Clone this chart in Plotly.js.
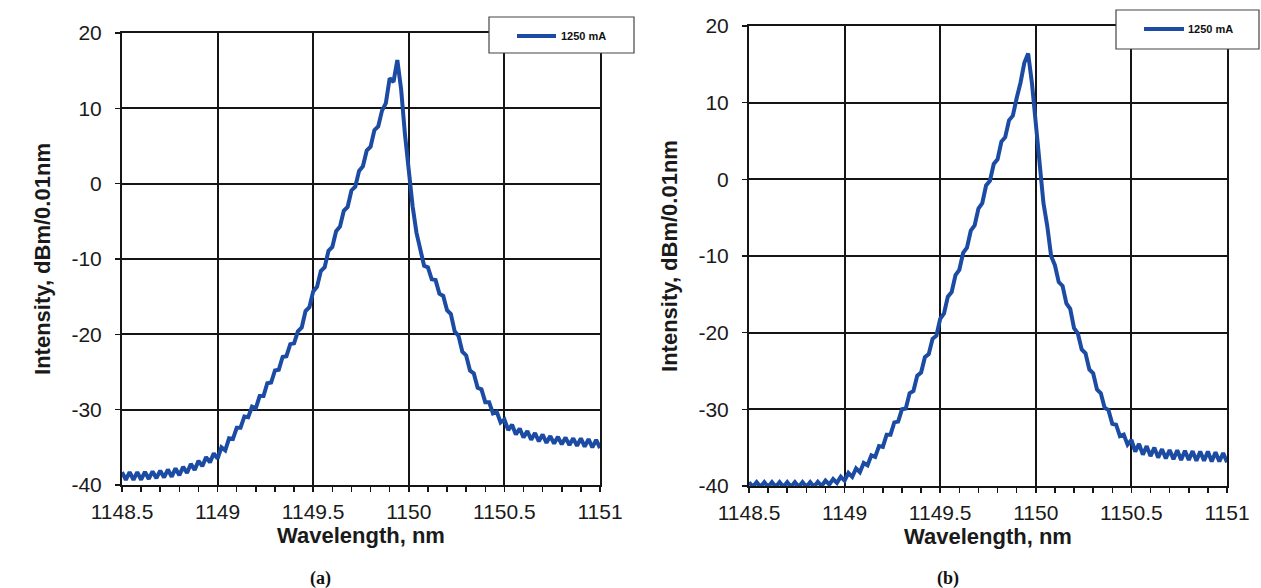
<!DOCTYPE html>
<html>
<head>
<meta charset="utf-8">
<script src="https://cdn.plot.ly/plotly-3.0.1.min.js"></script>
<style>html,body{margin:0;padding:0;background:#fff;}#chart{width:1261px;height:588px;}</style>
</head>
<body>
<div id="chart"></div>
<script>
// ---- data ----
const seriesName = '1250 mA';
const wavelengthStart = 1148.5;   // nm, first sample
const wavelengthStep = 0.02;      // nm, sample spacing
// (a) intensity, dBm/0.01nm
const intensityA = [
  -38.3,-39.3,-38.3,-39.3,-38.3,-39.3,-38.25,-39.2,-38.2,-39.1,
  -38.1,-39.0,-37.95,-38.9,-37.8,-38.7,-37.6,-38.4,-37.2,-38.0,
  -36.8,-37.5,-36.3,-37.0,-35.8,-36.5,-35.0,-35.4,-33.8,-33.9,
  -32.4,-32.4,-30.9,-31.0,-29.6,-29.8,-28.2,-28.2,-26.5,-26.4,
  -24.8,-24.7,-23.0,-22.9,-21.3,-21.2,-19.6,-19.1,-16.9,-16.4,
  -14.3,-13.7,-11.6,-11.1,-8.9,-8.4,-6.3,-5.7,-3.6,-3.1,
  -0.9,-0.4,1.7,2.3,4.4,4.9,7.1,7.6,9.7,10.7,
  14.0,13.5,16.4,12.5,6.5,1.5,-3.0,-6.5,-8.6,-10.9,
  -11.1,-12.7,-12.8,-14.6,-14.9,-16.8,-17.3,-19.6,-20.2,-22.3,
  -22.8,-24.8,-25.2,-27.1,-27.3,-29.0,-29.0,-30.5,-30.3,-31.7,
  -31.3,-32.7,-32.0,-33.3,-32.5,-33.7,-32.85,-34.0,-33.1,-34.2,
  -33.3,-34.4,-33.5,-34.5,-33.6,-34.6,-33.7,-34.7,-33.8,-34.8,
  -33.8,-34.9,-33.9,-35.0,-34.0,-35.1
];
// (b) intensity, dBm/0.01nm
const intensityB = [
  -39.5,-40.1,-39.5,-40.1,-39.5,-40.1,-39.5,-40.1,-39.5,-40.1,
  -39.5,-40.1,-39.5,-40.1,-39.5,-40.1,-39.5,-40.1,-39.45,-40.0,
  -39.3,-39.8,-39.1,-39.6,-38.8,-39.3,-38.3,-38.8,-37.7,-38.2,
  -37.0,-37.3,-36.0,-36.2,-34.8,-34.9,-33.3,-33.3,-31.7,-31.6,
  -30.0,-29.9,-27.9,-27.6,-25.6,-25.2,-23.2,-22.8,-20.8,-20.4,
  -18.2,-17.5,-15.3,-14.7,-12.5,-11.8,-9.6,-8.9,-6.7,-6.0,
  -3.8,-3.1,-0.8,-0.2,2.0,2.6,4.9,5.5,7.7,8.3,
  10.6,12.6,15.2,16.4,12.5,7.5,2.3,-3.1,-6.1,-10.0,
  -11.2,-13.4,-13.9,-16.2,-16.9,-19.4,-20.1,-22.2,-22.7,-24.8,
  -25.3,-27.4,-27.9,-29.8,-30.1,-31.9,-32.0,-33.5,-33.3,-34.6,
  -34.0,-35.5,-34.5,-35.9,-34.8,-36.1,-35.0,-36.3,-35.2,-36.4,
  -35.3,-36.5,-35.35,-36.6,-35.4,-36.6,-35.45,-36.7,-35.5,-36.7,
  -35.5,-36.8,-35.6,-36.8,-35.7,-36.9
];
const xTickVals = [1148.5, 1149, 1149.5, 1150, 1150.5, 1151];
const xTickText = ['1148.5', '1149', '1149.5', '1150', '1150.5', '1151'];
const yTickVals = [-40, -30, -20, -10, 0, 10, 20];
const yTickText = ['-40', '-30', '-20', '-10', '0', '10', '20'];
const xRange = [1148.5, 1151];
const yRange = [-40, 20];
const xTitle = 'Wavelength, nm';
const yTitle = 'Intensity, dBm/0.01nm';
const captions = ['(a)', '(b)'];

// ---- layout helpers ----
const W = 1261, H = 588;
const px = v => v / W;
const py = v => 1 - v / H;
const lineColor = '#1b4ba3';
const ink = '#151515';
const sans = 'Liberation Sans, Arial, sans-serif';

function xAxis(domain, anchor) {
  return {
    domain: domain, anchor: anchor, range: xRange,
    tickmode: 'array', tickvals: xTickVals, ticktext: xTickText,
    showgrid: true, gridcolor: ink, gridwidth: 2,
    showline: true, linecolor: ink, linewidth: 2, mirror: true,
    zeroline: false,
    ticks: 'outside', ticklen: 5, tickwidth: 1.5, tickcolor: ink,
    minor: {tickmode: 'linear', tick0: 1148.5, dtick: 0.1, ticks: 'outside', ticklen: 5, tickwidth: 1.5, tickcolor: ink, showgrid: false},
    ticklabelstandoff: 2,
    tickfont: {family: sans, size: 21, color: '#1a1a1a'},
    title: {text: xTitle, standoff: 2, font: {family: sans, size: 22, color: '#1a1a1a', weight: 'bold'}},
    automargin: false, fixedrange: true
  };
}
function yAxis(domain, anchor) {
  return {
    domain: domain, anchor: anchor, range: yRange,
    tickmode: 'array', tickvals: yTickVals, ticktext: yTickText,
    showgrid: true, gridcolor: ink, gridwidth: 2,
    showline: true, linecolor: ink, linewidth: 2, mirror: true,
    zeroline: false,
    ticks: 'outside', ticklen: 5, tickwidth: 1.5, tickcolor: ink,
    ticklabelstandoff: 9,
    tickfont: {family: sans, size: 21, color: '#1a1a1a'},
    title: {text: yTitle, standoff: 15, font: {family: sans, size: 22, color: '#1a1a1a', weight: 'bold'}},
    automargin: false, fixedrange: true
  };
}

const traces = [
  {type: 'scatter', mode: 'lines', name: seriesName, x0: wavelengthStart, dx: wavelengthStep,
   y: intensityA, xaxis: 'x', yaxis: 'y', line: {color: lineColor, width: 4}, showlegend: false},
  {type: 'scatter', mode: 'lines', name: seriesName, x0: wavelengthStart, dx: wavelengthStep,
   y: intensityB, xaxis: 'x2', yaxis: 'y2', line: {color: lineColor, width: 4}, showlegend: false}
];

// legend boxes drawn as shapes + text
function legendBox(x0, y0, x1, y1, lx0, lx1, ly) {
  return [
    {type: 'rect', xref: 'paper', yref: 'paper', x0: px(x0), x1: px(x1), y0: py(y1), y1: py(y0),
     fillcolor: '#ffffff', line: {color: '#444', width: 1.2}, layer: 'above'},
    {type: 'line', xref: 'paper', yref: 'paper', x0: px(lx0), x1: px(lx1), y0: py(ly), y1: py(ly),
     line: {color: lineColor, width: 4}, layer: 'above'}
  ];
}
const shapes = [].concat(
  legendBox(489, 17, 634, 53, 517, 556, 36),
  legendBox(1116, 10, 1259, 49, 1144, 1184, 29)
);
const annotations = [
  {xref: 'paper', yref: 'paper', x: px(559), y: py(36), xanchor: 'left', yanchor: 'middle', showarrow: false,
   text: seriesName, font: {family: sans, size: 11, color: '#111', weight: 'bold'}},
  {xref: 'paper', yref: 'paper', x: px(1186), y: py(29), xanchor: 'left', yanchor: 'middle', showarrow: false,
   text: seriesName, font: {family: sans, size: 11, color: '#111', weight: 'bold'}},
  {xref: 'paper', yref: 'paper', x: px(320), y: py(578), xanchor: 'center', yanchor: 'middle', showarrow: false,
   text: '<b>' + captions[0] + '</b>', font: {family: 'Liberation Serif, Times New Roman, serif', size: 18, color: '#111'}},
  {xref: 'paper', yref: 'paper', x: px(948), y: py(578), xanchor: 'center', yanchor: 'middle', showarrow: false,
   text: '<b>' + captions[1] + '</b>', font: {family: 'Liberation Serif, Times New Roman, serif', size: 18, color: '#111'}}
];

const layout = {
  width: W, height: H,
  margin: {l: 0, r: 0, t: 0, b: 0, pad: 0},
  paper_bgcolor: '#ffffff', plot_bgcolor: '#ffffff',
  showlegend: false,
  xaxis: xAxis([px(122), px(600)], 'y'),
  yaxis: yAxis([py(485), py(33)], 'x'),
  xaxis2: xAxis([px(749), px(1227)], 'y2'),
  yaxis2: yAxis([py(486), py(26)], 'x2'),
  shapes: shapes,
  annotations: annotations
};

Plotly.newPlot('chart', traces, layout, {staticPlot: true, displayModeBar: false});
</script>
</body>
</html>
